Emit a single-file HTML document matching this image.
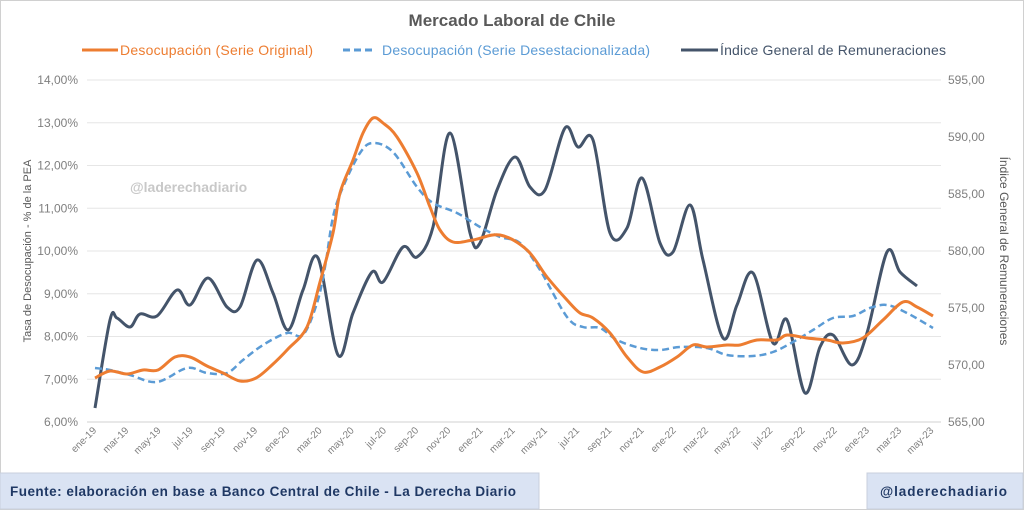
<!DOCTYPE html>
<html><head><meta charset="utf-8"><style>
body{margin:0;background:#fff;}
svg{display:block;font-family:"Liberation Sans",sans-serif;}
</style></head><body>
<svg id="s" width="1024" height="510" viewBox="0 0 1024 510" xmlns="http://www.w3.org/2000/svg">
<rect x="0.5" y="0.5" width="1023" height="509" fill="#fff" stroke="#d0d0d0"/>
<text x="512" y="26" text-anchor="middle" font-size="17" font-weight="bold" fill="#595959">Mercado Laboral de Chile</text>
<line x1="82" y1="50" x2="118" y2="50" stroke="#ed7d31" stroke-width="3"/>
<text x="120" y="55" font-size="14" fill="#ed7d31" textLength="193">Desocupación (Serie Original)</text>
<line x1="343" y1="50" x2="376" y2="50" stroke="#5b9bd5" stroke-width="3" stroke-dasharray="7,4"/>
<text x="382" y="55" font-size="14" fill="#5b9bd5" textLength="268">Desocupación (Serie Desestacionalizada)</text>
<line x1="681" y1="50" x2="718" y2="50" stroke="#44546a" stroke-width="3"/>
<text x="720" y="55" font-size="14" fill="#44546a" textLength="226">Índice General de Remuneraciones</text>
<g id="grid" stroke="#e6e6e6" stroke-width="1"></g>
<g id="ylab" font-size="12" fill="#7f7f7f"></g>
<text transform="translate(31,251) rotate(-90)" text-anchor="middle" font-size="11" fill="#595959">Tasa de Desocupación - % de la PEA</text>
<text transform="translate(1000,251) rotate(90)" text-anchor="middle" font-size="12" fill="#595959">Índice General de Remuneraciones</text>
<text x="130" y="192" font-size="14" font-weight="bold" fill="#c8c8c8">@laderechadiario</text>
<g id="xlab" font-size="10" fill="#7f7f7f"></g>
<path id="pd" fill="none" stroke="#44546a" stroke-width="3" stroke-linejoin="round"/>
<path id="pb" fill="none" stroke="#5b9bd5" stroke-width="2.5" stroke-dasharray="7,4"/>
<path id="po" fill="none" stroke="#ed7d31" stroke-width="3"/>
<rect x="0" y="473" width="539" height="36" fill="#dae3f3" stroke="#c8cfdc"/>
<text x="10" y="496" font-size="13.5" font-weight="bold" fill="#1f3864" textLength="506">Fuente: elaboración en base a Banco Central de Chile - La Derecha Diario</text>
<rect x="867" y="473" width="156" height="36" fill="#dae3f3" stroke="#c8cfdc"/>
<text x="880" y="496" font-size="13.5" font-weight="bold" fill="#1f3864" textLength="127">@laderechadiario</text>
</svg>
<script>
var NS="http://www.w3.org/2000/svg";
function el(p,t,a,txt){var e=document.createElementNS(NS,t);for(var k in a)e.setAttribute(k,a[k]);if(txt)e.textContent=txt;document.getElementById(p).appendChild(e);}
for(var i=0;i<=8;i++){var y=80+i*42.75;el("grid","line",{x1:87,x2:941,y1:y,y2:y,stroke:i==8?"#d0d0d0":"#e6e6e6"});
el("ylab","text",{x:78,y:y+4,"text-anchor":"end"},(14-i)+",00%");}
for(var i=0;i<=6;i++){var y=80+i*57;el("ylab","text",{x:948,y:y+4},(595-5*i)+",00");}
var m=["ene","mar","may","jul","sep","nov"];
for(var i=0;i<27;i++){var mi=i*2,yr=19+Math.floor(mi/12),lab=m[(mi%12)/2]+"-"+yr;var x=97+mi*16.1;
el("xlab","text",{transform:"translate("+x+",431) rotate(-45)","text-anchor":"end"},lab);}
function cr(p){var d="M"+p[0][0]+","+p[0][1];for(var i=0;i<p.length-1;i++){var p0=p[i>0?i-1:0],p1=p[i],p2=p[i+1],p3=p[i+2<p.length?i+2:i+1];
d+=" C"+(p1[0]+(p2[0]-p0[0])/6)+","+(p1[1]+(p2[1]-p0[1])/6)+" "+(p2[0]-(p3[0]-p1[0])/6)+","+(p2[1]-(p3[1]-p1[1])/6)+" "+p2[0]+","+p2[1];}return d;}
var O=[[95,378],[110,371],[127,374],[143,370],[158,370],[175,357],[190,357],[207,366],[223,373],[240,381],[256,378],[272,365],[288,349],[307,327],[320,282],[333,233],[340,193],[353,160],[363,133],[373,118],[383,123],[397,137],[417,173],[430,207],[440,230],[453,242],[473,240],[500,235],[527,250],[547,277],[567,300],[580,313],[593,318],[610,333],[627,357],[643,372],[660,367],[677,357],[693,345],[707,347],[727,345],[740,345],[757,340],[777,340],[787,335],[807,338],[827,340],[843,343],[863,338],[883,320],[903,302],[917,307],[933,316]];
var B=[[95,368],[110,370],[130,375],[157,382],[187,368],[207,373],[227,373],[243,360],[263,345],[287,333],[303,335],[317,303],[325,267],[333,217],[343,187],[360,153],[373,143],[393,152],[417,187],[433,203],[457,213],[480,227],[500,237],[520,243],[540,270],[567,317],[583,327],[600,328],[617,340],[640,348],[660,350],[680,347],[707,348],[727,355],[753,356],[773,352],[793,342],[813,330],[833,318],[853,316],[870,308],[887,305],[907,313],[933,328]];
var D=[[95,408],[110,320],[117,318],[130,327],[140,314],[157,316],[177,290],[190,305],[208,278],[227,307],[240,307],[257,260],[273,293],[288,330],[303,290],[318,258],[338,355],[353,313],[372,272],[383,282],[403,247],[417,257],[433,227],[450,133],[470,233],[480,243],[497,190],[515,157],[530,187],[545,190],[565,128],[578,147],[593,140],[610,233],[627,228],[642,178],[660,243],[673,252],[690,205],[703,260],[723,338],[737,305],[753,273],[773,343],[787,320],[805,393],[820,347],[833,335],[852,365],[867,333],[887,252],[900,272],[917,286]];
document.getElementById("po").setAttribute("d",cr(O));
document.getElementById("pb").setAttribute("d",cr(B));
document.getElementById("pd").setAttribute("d",cr(D));
</script>
</body></html>
